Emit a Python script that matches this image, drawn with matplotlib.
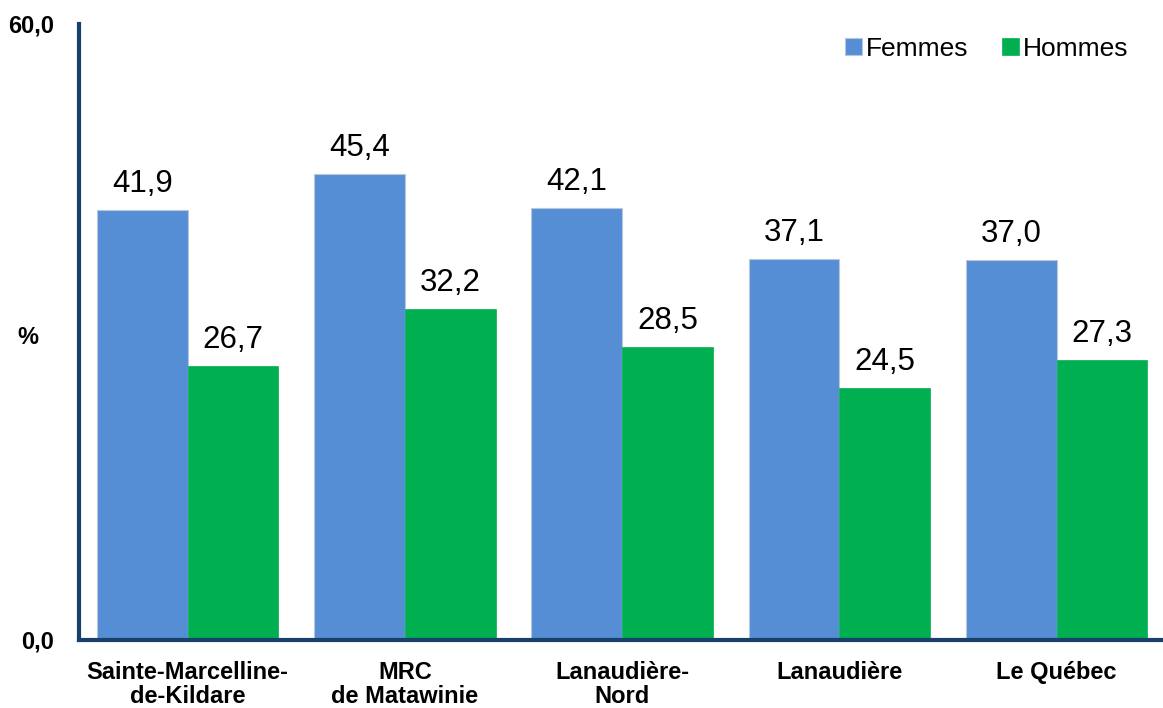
import numpy as np
import matplotlib.pyplot as plt

plt.rcParams['font.family'] = ['Liberation Sans', 'DejaVu Sans']

categories = ["Sainte-Marcelline-\nde-Kildare", "MRC\nde Matawinie", "Lanaudière-\nNord",
              "Lanaudière", "Le Québec"]
femmes = [41.9, 45.4, 42.1, 37.1, 37.0]
hommes = [26.7, 32.2, 28.5, 24.5, 27.3]

c_f = '#558ED5'
c_h = '#00B050'
axis_col = '#17406D'

fig = plt.figure(figsize=(11.63, 7.08), dpi=100)
ax = fig.add_axes([79 / 1163, 1 - 640 / 708, 1 - 79 / 1163, (640 - 24) / 708])

x = np.arange(len(categories))
w = 0.418
b1 = ax.bar(x - w / 2, femmes, w, color=c_f, edgecolor='#B8C8DC', linewidth=0.8, label='Femmes')
b2 = ax.bar(x + w / 2, hommes, w, color=c_h, edgecolor=c_h, linewidth=0.5, label='Hommes')

for bars in (b1, b2):
    for rect in bars:
        v = rect.get_height()
        ax.annotate(f"{v:.1f}".replace('.', ','), (rect.get_x() + rect.get_width() / 2, v),
                    xytext=(0, 8), textcoords='offset points', ha='center', va='bottom',
                    fontsize=22.5)

ax.set_xlim(-0.5, 4.49)
ax.set_ylim(0, 60)
ax.set_yticks([0, 60])
ax.set_yticklabels(["0,0", "60,0"], fontsize=17, fontweight='bold')
ax.set_xticks(x)
ax.set_xticklabels(categories, fontsize=17, fontweight='bold', linespacing=1.08)
ax.tick_params(axis='x', length=0, pad=15)
ax.tick_params(axis='y', length=0, pad=18)

for s in ['top', 'right']:
    ax.spines[s].set_visible(False)
for s in ['left', 'bottom']:
    ax.spines[s].set_color(axis_col)
    ax.spines[s].set_linewidth(3)

fig.text(28 / 1163, 1 - 337 / 708, '%', fontsize=17, fontweight='bold', ha='center', va='center')

ax.legend(loc='upper right', bbox_to_anchor=(0.99, 1.018), ncol=2, frameon=False, fontsize=19,
          handlelength=0.65, handleheight=0.65, handletextpad=0.15, columnspacing=1.25)

plt.savefig('out.png', dpi=100)
